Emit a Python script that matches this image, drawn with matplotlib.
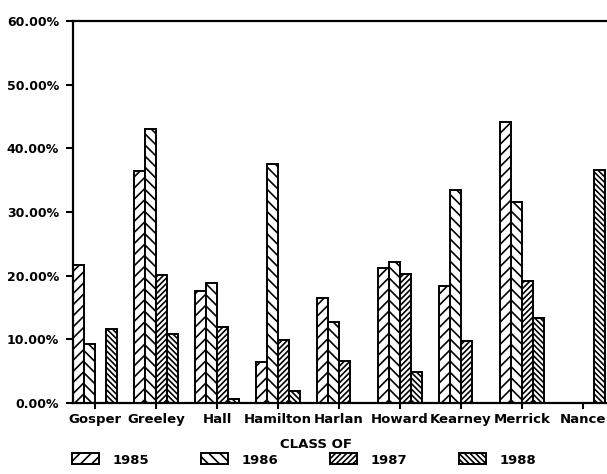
import matplotlib
matplotlib.use("Agg")
import matplotlib.pyplot as plt
import numpy as np

counties = ["Gosper", "Greeley", "Hall", "Hamilton", "Harlan",
            "Howard", "Kearney", "Merrick", "Nance"]
class_years = ["1985", "1986", "1987", "1988"]

pct_1985 = [21.6, 36.4, 17.6, 6.4, 16.5, 21.2, 18.4, 44.2, 0.0]
pct_1986 = [9.2, 43.0, 18.8, 37.5, 12.8, 22.2, 33.4, 31.5, 0.0]
pct_1987 = [0.0, 20.1, 11.9, 9.9, 6.6, 20.3, 9.8, 19.2, 0.0]
pct_1988 = [11.7, 10.8, 0.7, 1.9, 0.0, 4.8, 0.0, 13.4, 36.6]

y_ticks = [0, 10, 20, 30, 40, 50, 60]
y_tick_labels = ["0.00%", "10.00%", "20.00%", "30.00%", "40.00%", "50.00%", "60.00%"]

series = [pct_1985, pct_1986, pct_1987, pct_1988]
hatches = ["///", "\\\\\\", "//////", "\\\\\\\\\\\\"]

plt.rcParams["hatch.linewidth"] = 1.2
plt.rcParams["font.family"] = ["DejaVu Sans"]

fig = plt.figure(figsize=(6.07, 4.74), dpi=100)
ax = fig.add_axes([73 / 607, 71 / 474, 1 - 73 / 607, 382 / 474])

x = np.arange(len(counties))
width = 0.18
handles = []
for k, (vals, h) in enumerate(zip(series, hatches)):
    bars = ax.bar(x + (k - 1.5) * width, vals, width, facecolor="white",
                  edgecolor="black", linewidth=1.4, hatch=h,
                  label=class_years[k])
    handles.append(bars)

ax.set_xlim(-0.36, 8.394)
ax.set_ylim(0, 60)
ax.set_yticks(y_ticks)
ax.set_yticklabels(y_tick_labels, fontsize=9, fontweight="bold")
ax.set_xticks(x)
ax.set_xticklabels(counties, fontsize=9.5, fontweight="bold")
ax.tick_params(axis="y", direction="out", length=5, width=1.5, pad=5)
ax.tick_params(axis="x", direction="out", length=4, width=1.5, pad=3)

for side in ["left", "bottom", "top"]:
    ax.spines[side].set_linewidth(1.6)
ax.spines["right"].set_visible(False)

fig.text(316 / 607, 1 - 445 / 474, "CLASS OF", ha="center", va="center",
         fontsize=9.5, fontweight="bold")
fig.legend(handles=handles, labels=class_years, loc="center",
           bbox_to_anchor=(304 / 607, 1 - 460 / 474), ncol=4, frameon=False,
           handlelength=2.1, handleheight=0.9, handletextpad=1.0,
           columnspacing=3.9, prop={"size": 9.5, "weight": "bold"})

fig.savefig("out.png", dpi=100)
